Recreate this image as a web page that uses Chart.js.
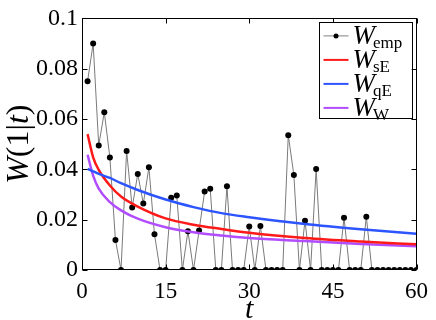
<!DOCTYPE html>
<html>
<head>
<meta charset="utf-8">
<script src="https://cdn.jsdelivr.net/npm/chart.js@4.4.0/dist/chart.umd.min.js"></script>
<style>
  html, body { margin: 0; padding: 0; background: #fff; }
  #caja { width: 436px; height: 320px; }
</style>
</head>
<body>
<div id="caja"><canvas id="myChart" width="436" height="320"></canvas></div>
<script>
//* Datos

var tEmp = [1, 2, 3, 4, 5, 6, 7, 8, 9, 10, 11, 12, 13, 14, 15, 16, 17, 18, 19, 20,
            21, 22, 23, 24, 25, 26, 27, 28, 29, 30, 31, 32, 33, 34, 35, 36, 37, 38, 39, 40,
            41, 42, 43, 44, 45, 46, 47, 48, 49, 50, 51, 52, 53, 54, 55, 56, 57, 58, 59, 60];
var wEmp = [0.075, 0.090, 0.0495, 0.0627, 0.0447, 0.0119, 0, 0.0473, 0.0248, 0.0382,
            0.0264, 0.0408, 0.0142, 0, 0, 0.0287, 0.0296, 0, 0.0154, 0,
            0.0157, 0.0312, 0.0323, 0, 0, 0.0333, 0, 0, 0, 0.0173,
            0, 0.0175, 0, 0, 0, 0, 0.0536, 0.0378, 0, 0.0196,
            0, 0.0401, 0, 0, 0, 0, 0.0208, 0, 0, 0,
            0.0212, 0, 0, 0, 0, 0, 0, 0, 0, 0];

var tCurva = [1, 2, 3, 5, 7, 10, 15, 20, 25, 30, 40, 50, 60];
var wSE = [0.054, 0.0448, 0.0398, 0.0336, 0.0292, 0.0252, 0.0205, 0.0180, 0.0163, 0.0148, 0.0127, 0.0113, 0.0102];
var wQE = [0.0402, 0.0392, 0.0382, 0.0366, 0.0345, 0.0318, 0.0280, 0.0250, 0.0226, 0.0210, 0.0183, 0.0162, 0.0144];
var wW  = [0.0458, 0.0375, 0.0323, 0.0270, 0.0237, 0.0204, 0.0170, 0.0150, 0.0137, 0.0127, 0.0115, 0.0103, 0.0094];

var nombres = ["emp", "sE", "qE", "W"];
var colores = ["#000000", "#ff1a1a", "#2d55ff", "#b24dff"];

var xTicks = [0, 15, 30, 45, 60];
var yTicks = [0, 0.02, 0.04, 0.06, 0.08, 0.1];
var yEtiquetas = ["0", "0.02", "0.04", "0.06", "0.08", "0.1"];

var FUENTE = "'Liberation Serif', 'DejaVu Serif', serif";

function puntos(xs, ys) {
  return xs.map(function (v, i) { return { x: v, y: ys[i] }; });
}

//!-----------------------------------------------------------------------------

//* Marco, ticks hacia adentro, titulos y leyenda

var marco = {
  id: "marco",
  afterDraw: function (chart) {
    var ctx = chart.ctx;
    var a = chart.chartArea;
    var sx = chart.scales.x, sy = chart.scales.y;
    var L = Math.round(a.left) + 0.5, R = Math.round(a.right) - 0.5;
    var T = Math.round(a.top) + 0.5, B = Math.round(a.bottom) - 0.5;
    ctx.save();
    ctx.strokeStyle = "#000";
    ctx.lineWidth = 1;
    ctx.strokeRect(L, T, R - L, B - T);

    ctx.beginPath();
    xTicks.forEach(function (v) {
      var px = Math.round(sx.getPixelForValue(v)) + 0.5;
      ctx.moveTo(px, B); ctx.lineTo(px, B - 5);
      ctx.moveTo(px, T); ctx.lineTo(px, T + 5);
    });
    yTicks.forEach(function (v) {
      var py = Math.round(sy.getPixelForValue(v)) + 0.5;
      ctx.moveTo(L, py); ctx.lineTo(L + 5, py);
      ctx.moveTo(R, py); ctx.lineTo(R - 5, py);
    });
    ctx.stroke();

    // titulo eje x
    ctx.fillStyle = "#000";
    ctx.textAlign = "center";
    ctx.textBaseline = "alphabetic";
    ctx.font = "italic 30px " + FUENTE;
    ctx.fillText("t", (a.left + a.right) / 2, 318);

    // titulo eje y: W(1|t)
    var partes = [["W", "italic "], ["(1|", ""], ["t", "italic "], [")", ""]];
    ctx.save();
    ctx.translate(28, (a.top + a.bottom) / 2);
    ctx.rotate(-Math.PI / 2);
    var total = 0;
    partes.forEach(function (p) {
      ctx.font = p[1] + "32px " + FUENTE;
      total += ctx.measureText(p[0]).width;
    });
    var x0 = -total / 2;
    ctx.textAlign = "left";
    partes.forEach(function (p) {
      ctx.font = p[1] + "32px " + FUENTE;
      ctx.fillText(p[0], x0, 0);
      x0 += ctx.measureText(p[0]).width;
    });
    ctx.restore();

    // leyenda
    var bx = a.right - 98, by = a.top + 4, bw = 93, bh = 96;
    ctx.fillStyle = "#fff";
    ctx.fillRect(bx, by, bw, bh);
    ctx.strokeStyle = "#000";
    ctx.strokeRect(Math.round(bx) + 0.5, Math.round(by) + 0.5, bw, bh);
    nombres.forEach(function (n, i) {
      var yy = by + 13.5 + i * 24;
      ctx.lineWidth = i === 0 ? 1 : 2;
      ctx.strokeStyle = i === 0 ? "#808080" : colores[i];
      ctx.beginPath();
      ctx.moveTo(bx + 5, yy); ctx.lineTo(bx + 30, yy);
      ctx.stroke();
      if (i === 0) {
        ctx.fillStyle = "#000";
        ctx.beginPath();
        ctx.arc(bx + 17.5, yy, 2.5, 0, Math.PI * 2);
        ctx.fill();
      }
      ctx.fillStyle = "#000";
      ctx.textAlign = "left";
      ctx.textBaseline = "alphabetic";
      ctx.font = "italic 27px " + FUENTE;
      ctx.fillText("W", bx + 34, yy + 8);
      var w = ctx.measureText("W").width;
      ctx.font = "17px " + FUENTE;
      ctx.fillText(n, bx + 34 + w - 2, yy + 12);
    });
    ctx.restore();
  }
};

//!-----------------------------------------------------------------------------

//* Grafico

var ctx = document.getElementById("myChart").getContext("2d");

var miGrafico = new Chart(ctx, {
  type: "line",
  data: {
    datasets: [
      {
        label: "W_emp",
        data: puntos(tEmp, wEmp),
        borderColor: "#7a7a7a",
        borderWidth: 1,
        pointRadius: 3,
        pointBackgroundColor: "#000",
        pointBorderWidth: 0,
        tension: 0,
        order: 4
      },
      {
        label: "W_sE",
        data: puntos(tCurva, wSE),
        borderColor: colores[1],
        borderWidth: 2.5,
        pointRadius: 0,
        cubicInterpolationMode: "monotone",
        order: 2
      },
      {
        label: "W_qE",
        data: puntos(tCurva, wQE),
        borderColor: colores[2],
        borderWidth: 2.5,
        pointRadius: 0,
        cubicInterpolationMode: "monotone",
        order: 1
      },
      {
        label: "W_W",
        data: puntos(tCurva, wW),
        borderColor: colores[3],
        borderWidth: 2.5,
        pointRadius: 0,
        cubicInterpolationMode: "monotone",
        order: 3
      }
    ]
  },
  options: {
    responsive: false,
    animation: false,
    layout: { padding: { top: 17, right: 16, left: 0, bottom: 0 } },
    plugins: {
      legend: { display: false },
      tooltip: { enabled: false }
    },
    scales: {
      x: {
        type: "linear",
        min: 0,
        max: 60,
        grid: { display: false, drawTicks: false },
        border: { display: false },
        afterBuildTicks: function (s) { s.ticks = xTicks.map(function (v) { return { value: v }; }); },
        afterFit: function (s) { s.height = 50; },
        ticks: {
          padding: 8,
          color: "#000",
          maxRotation: 0,
          font: { family: FUENTE, size: 23 }
        }
      },
      y: {
        min: 0,
        max: 0.1,
        grid: { display: false, drawTicks: false },
        border: { display: false },
        afterBuildTicks: function (s) { s.ticks = yTicks.map(function (v) { return { value: v }; }); },
        afterFit: function (s) { s.width = 82; },
        ticks: {
          padding: 4,
          color: "#000",
          font: { family: FUENTE, size: 24 },
          callback: function (v) {
            var i = yTicks.indexOf(v);
            return i >= 0 ? yEtiquetas[i] : "";
          }
        }
      }
    }
  },
  plugins: [marco]
});
</script>
</body>
</html>
